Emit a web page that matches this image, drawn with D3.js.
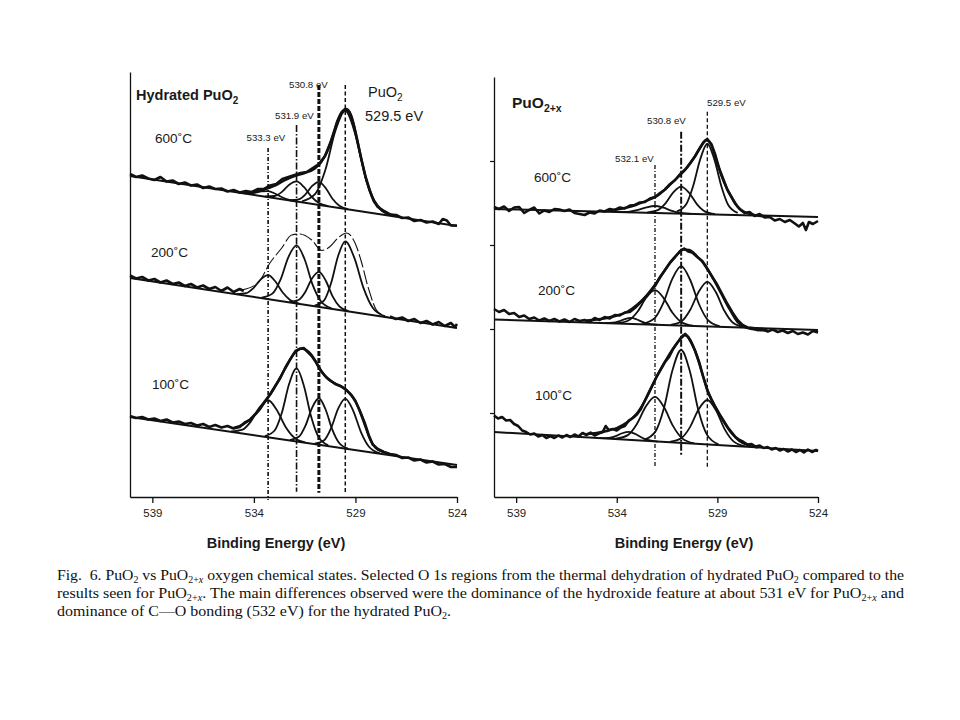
<!DOCTYPE html>
<html><head><meta charset="utf-8">
<script src="https://cdn.jsdelivr.net/npm/d3@7"></script>
<style>
html,body{margin:0;padding:0;background:#fff;}
svg{display:block;}
text{white-space:pre;}
</style></head><body>
<svg id="chart" width="960" height="720"></svg>
<script>
// ---------- axes ----------
const energyDomain = [540.1, 524];
const energyTicks = [539, 534, 529, 524];
const intensityDomain = [0, 85];
const rightIntensityTicks = [16.8, 33.6, 50.4, 67.2];
const axisTitle = "Binding Energy (eV)";
const temperatures = ["600\u02daC", "200\u02daC", "100\u02daC"];

// ---------- Hydrated PuO2 (left) ----------
const L600_background = [[540.1, 64.2], [524, 54.2]];
const L600_data = [[540.1,64.6],[539.8,64.0],[539.5,64.3],[539.2,63.7],[538.9,63.4],[538.6,64.0],[538.3,63.1],[538.0,63.3],[537.7,62.6],[537.4,62.9],[537.1,62.3],[536.8,62.5],[536.5,61.8],[536.2,62.1],[535.9,61.6],[535.6,61.7],[535.3,61.1],[535.0,61.4],[534.7,60.9],[534.4,61.2],[534.1,61.0],[533.8,61.6],[533.5,61.6],[533.2,62.3],[532.9,62.6],[532.6,63.6],[532.3,64.0],[532.0,64.4],[531.7,64.8],[531.4,65.0],[531.1,65.8],[530.8,66.6],[530.5,68.2],[530.2,71.2],[529.9,75.0],[529.7,76.8],[529.5,77.6],[529.3,77.0],[529.1,74.6],[528.9,71.0],[528.7,67.4],[528.5,64.0],[528.3,61.4],[528.1,59.2],[527.9,58.0],[527.6,57.2],[527.3,56.5],[527.0,56.4],[526.7,55.8],[526.4,55.9],[526.1,55.2],[525.8,55.4],[525.5,54.9],[525.2,55.1],[524.9,54.6],[524.7,55.6],[524.5,55.3],[524.3,54.3],[524.0,54.3]];
const L600_fit = [[534.5,60.8],[534,61.0],[533.5,61.5],[533,62.2],[532.5,63.3],[532,64.2],[531.5,64.8],[531,65.7],[530.7,66.9],[530.4,69.0],[530.1,72.4],[529.85,75.6],[529.6,77.3],[529.45,77.6],[529.2,76.2],[528.95,72.2],[528.7,67.4],[528.45,63.2],[528.2,60.2],[527.9,58.2],[527.5,56.9],[527,56.2]];
const L600_peak5333 = [[531.87,0.01],[532.31,0.13],[532.64,0.44],[532.97,0.93],[533.3,1.2],[533.63,0.93],[533.96,0.44],[534.29,0.13],[534.73,0.01]];
const L600_peak5319 = [[530.34,0.04],[530.82,0.42],[531.18,1.47],[531.54,3.12],[531.9,4.0],[532.26,3.12],[532.62,1.47],[532.98,0.42],[533.46,0.04]];
const L600_peak5308 = [[529.37,0.04],[529.81,0.49],[530.14,1.69],[530.47,3.58],[530.8,4.6],[531.13,3.58],[531.46,1.69],[531.79,0.49],[532.23,0.04]];
const L600_peak5295 = [[527.37,0.18],[528.02,2.08],[528.52,7.21],[529.01,15.27],[529.5,19.6],[529.99,15.27],[530.48,7.21],[530.98,2.08],[531.63,0.18]];

const L200_background = [[540.1, 43.8], [524, 33.8]];
const L200_dataLow = [[540.1,44.3],[539.8,43.7],[539.5,44.0],[539.2,43.3],[538.9,43.6],[538.6,42.9],[538.3,43.3],[538.0,42.6],[537.7,42.9],[537.4,42.2],[537.1,42.6],[536.8,41.9],[536.5,42.3],[536.2,41.6],[535.9,42.0],[535.6,41.2],[535.3,41.9],[535.0,41.0],[534.7,41.6],[534.5,41.2]];
const L200_dataHigh = [[527.3,36.1],[527.0,35.6],[526.7,35.9],[526.4,35.2],[526.1,35.6],[525.8,34.8],[525.5,35.2],[525.2,34.5],[524.9,35.0],[524.6,34.2],[524.3,34.8],[524.1,34.0],[524.0,34.6]];
const L200_fit = [[534.6,41.4],[533.8,42.8],[533.21,46.8],[532.63,49.8],[532.14,52.4],[531.73,52.6],[531.15,51.4],[530.66,49.3],[530.25,50.1],[529.86,51.8],[529.43,52.8],[529.02,50.8],[528.69,46.8],[528.38,42.0],[527.89,37.0],[527.21,35.8]];
const L200_peak5333 = [[531.74,0.04],[532.22,0.51],[532.58,1.77],[532.94,3.74],[533.3,4.8],[533.66,3.74],[534.02,1.77],[534.38,0.51],[534.86,0.04]];
const L200_peak5319 = [[530.18,0.10],[530.71,1.23],[531.11,4.27],[531.5,9.04],[531.9,11.6],[532.3,9.04],[532.69,4.27],[533.09,1.23],[533.62,0.10]];
const L200_peak5308 = [[529.34,0.06],[529.79,0.74],[530.13,2.58],[530.46,5.45],[530.8,7.0],[531.14,5.45],[531.47,2.58],[531.81,0.74],[532.26,0.06]];
const L200_peak5295 = [[527.55,0.13],[528.15,1.47],[528.6,5.12],[529.05,10.83],[529.5,13.9],[529.85,10.83],[530.2,5.12],[530.54,1.47],[531.01,0.13]];

const L100_background = [[540.1, 16.0], [524, 6.4]];
const L100_data = [[540.1,16.2],[539.8,15.8],[539.5,16.0],[539.2,15.5],[538.9,15.7],[538.6,15.2],[538.3,15.5],[538.0,14.9],[537.7,15.1],[537.4,14.6],[537.1,14.8],[536.8,14.3],[536.5,14.6],[536.2,14.0],[535.9,14.4],[535.6,13.9],[535.3,14.2],[535.0,13.7],[534.7,14.0],[534.45,14.9],[534.2,15.4],[533.95,16.5],[533.7,17.6],[533.45,19.2],[533.2,20.5],[532.95,22.2],[532.7,23.8],[532.45,25.9],[532.2,27.6],[531.95,29.2],[531.75,29.6],[531.55,29.8],[531.35,29.0],[531.15,28.2],[530.95,27.0],[530.7,25.2],[530.45,24.0],[530.2,23.2],[530.0,22.6],[529.75,22.2],[529.45,21.4],[529.2,20.4],[529.0,19.2],[528.8,17.4],[528.55,14.9],[528.35,12.4],[528.15,10.5],[527.9,9.6],[527.6,9.0],[527.3,8.6],[527.0,8.4],[526.7,7.8],[526.4,7.9],[526.1,7.3],[525.8,7.5],[525.5,6.9],[525.2,7.1],[524.9,6.5],[524.6,6.6],[524.3,6.0],[524.0,6.0]];
const L100_fit = [[535.0,13.8],[534.5,14.6],[534.0,16.2],[533.5,18.8],[533.0,21.8],[532.5,25.4],[532.0,28.8],[531.65,29.7],[531.3,29.0],[531.0,27.4],[530.7,25.3],[530.35,23.6],[530.0,22.7],[529.6,21.9],[529.3,20.8],[529.0,19.1],[528.75,16.8],[528.5,14.0],[528.25,11.3],[528.0,9.8],[527.6,9.0],[527.0,8.3]];
const L100_peak5333 = [[531.48,0.07],[532.04,0.78],[532.46,2.72],[532.88,5.76],[533.3,7.4],[533.72,5.76],[534.14,2.72],[534.56,0.78],[535.12,0.07]];
const L100_peak5319 = [[530.34,0.13],[530.82,1.55],[531.18,5.37],[531.54,11.37],[531.9,14.6],[532.26,11.37],[532.62,5.37],[532.98,1.55],[533.46,0.13]];
const L100_peak5308 = [[529.37,0.08],[529.81,0.99],[530.14,3.42],[530.47,7.24],[530.8,9.3],[531.13,7.24],[531.46,3.42],[531.79,0.99],[532.23,0.08]];
const L100_peak5295 = [[527.81,0.09],[528.33,1.06],[528.72,3.68],[529.11,7.79],[529.5,10.0],[529.85,7.79],[530.2,3.68],[530.54,1.06],[531.01,0.09]];

const hydratedRefEnergy = [533.3, 531.9, 530.8, 529.5];
const hydratedRefTop = [69.8, 74.4, 82.4, 82.4];
const hydratedRefBottom = [-0.6, 1.06, 0.86, 0.86];
const hydratedRefLabel = ["533.3 eV", "531.9 eV", "530.8 eV"];

// ---------- PuO2+x (right) ----------
const R600_background = [[540.1, 57.6], [524, 56.0]];
const R600_data = [[540.1,58.0],[539.85,57.6],[539.6,58.1],[539.35,57.2],[539.1,57.9],[538.85,58.0],[538.6,56.8],[538.35,57.4],[538.1,57.9],[537.85,56.7],[537.6,57.3],[537.35,57.0],[537.1,57.6],[536.85,57.5],[536.6,57.2],[536.35,57.5],[536.1,56.8],[535.85,56.6],[535.6,56.4],[535.35,56.9],[535.1,56.7],[534.85,57.3],[534.6,57.1],[534.35,57.6],[534.1,57.4],[533.85,57.9],[533.6,57.7],[533.35,58.3],[533.1,58.4],[532.85,58.9],[532.6,59.0],[532.35,59.7],[532.1,60.0],[531.85,60.8],[531.6,61.5],[531.35,62.6],[531.1,63.4],[530.85,64.6],[530.6,65.5],[530.35,66.8],[530.1,68.2],[529.9,69.6],[529.7,70.9],[529.5,71.6],[529.3,70.6],[529.1,68.4],[528.9,65.6],[528.7,63.5],[528.5,61.4],[528.3,60.0],[528.1,58.6],[527.9,57.6],[527.65,56.8],[527.4,57.0],[527.15,56.2],[526.9,56.6],[526.65,55.9],[526.4,56.0],[526.15,55.3],[525.9,55.6],[525.65,55.0],[525.4,55.4],[525.15,54.7],[524.95,54.1],[524.75,54.8],[524.6,53.4],[524.45,55.0],[524.25,54.6],[524.0,55.2]];
const R600_fit = [[534.5,57.2],[534,57.5],[533.5,57.9],[533,58.5],[532.5,59.3],[532,60.2],[531.5,61.9],[531,63.8],[530.5,65.9],[530.15,67.9],[529.8,70.2],[529.55,71.4],[529.3,70.4],[529.05,67.3],[528.8,64.3],[528.55,61.9],[528.3,60.0],[528,58.1],[527.6,56.9],[527.0,56.3],[526.5,56.1]];
const R600_peak5321 = [[530.28,0.01],[530.84,0.15],[531.26,0.52],[531.68,1.09],[532.1,1.4],[532.52,1.09],[532.94,0.52],[533.36,0.15],[533.92,0.01]];
const R600_peak5308 = [[529.11,0.05],[529.63,0.57],[530.02,1.99],[530.41,4.21],[530.8,5.4],[531.19,4.21],[531.58,1.99],[531.97,0.57],[532.49,0.05]];
const R600_peak5295 = [[527.99,0.42],[528.46,1.97],[528.8,5.64],[529.15,11.0],[529.5,14.1],[529.85,11.0],[530.2,5.64],[530.54,1.97],[531.01,0.42]];

const R200_background = [[540.1, 35.5], [524, 33.4]];
const R200_data = [[540.1,37.6],[539.85,37.0],[539.6,37.4],[539.35,36.6],[539.1,36.8],[538.85,36.0],[538.6,36.3],[538.35,35.6],[538.1,35.9],[537.85,35.3],[537.6,35.7],[537.35,35.2],[537.1,35.6],[536.85,35.1],[536.6,35.5],[536.35,35.0],[536.1,35.6],[535.85,35.2],[535.6,35.4],[535.35,35.0],[535.1,35.8],[534.85,35.4],[534.6,36.0],[534.35,35.7],[534.1,36.4],[533.85,36.3],[533.6,36.9],[533.35,37.0],[533.1,37.8],[532.85,38.8],[532.6,39.8],[532.35,41.0],[532.1,42.2],[531.85,44.0],[531.6,45.4],[531.35,46.9],[531.1,48.0],[530.85,49.2],[530.65,49.7],[530.45,49.1],[530.25,48.9],[530.0,48.0],[529.75,47.2],[529.5,45.6],[529.25,44.0],[529.0,42.4],[528.75,40.5],[528.5,38.6],[528.25,36.9],[528.0,35.4],[527.75,34.4],[527.5,33.9],[527.25,33.8],[527.0,33.4],[526.75,33.6],[526.5,33.1],[526.25,33.5],[526.0,33.0],[525.75,33.3],[525.5,32.8],[525.25,33.2],[525.0,32.6],[524.75,32.9],[524.5,32.5],[524.25,33.2],[524.0,32.9]];
const R200_fit = [[535.5,35.3],[535,35.5],[534.5,35.8],[534,36.3],[533.5,37.0],[533,38.4],[532.5,40.4],[532,43.0],[531.5,46.0],[531,48.5],[530.7,49.5],[530.4,49.4],[530,48.1],[529.6,46.3],[529.2,43.6],[528.8,40.6],[528.4,37.6],[528,35.0],[527.6,33.9],[527,33.4],[526.5,33.3]];
const R200_peak5333 = [[532.0,0.01],[532.4,0.13],[532.7,0.44],[533.0,0.93],[533.3,1.2],[533.6,0.93],[533.9,0.44],[534.2,0.13],[534.6,0.01]];
const R200_peak5321 = [[530.23,0.06],[530.8,0.73],[531.24,2.54],[531.67,5.38],[532.1,6.9],[532.53,5.38],[532.96,2.54],[533.4,0.73],[533.97,0.06]];
const R200_peak5308 = [[528.88,0.11],[529.47,1.26],[529.91,4.38],[530.36,9.27],[530.8,11.9],[531.24,9.27],[531.69,4.38],[532.13,1.26],[532.72,0.11]];
const R200_peak5295 = [[527.68,0.08],[528.24,0.94],[528.66,3.28],[529.08,6.93],[529.5,8.9],[529.92,6.93],[530.34,3.28],[530.76,0.94],[531.32,0.08]];

const R100_background = [[540.1, 13.0], [524, 9.2]];
const R100_data = [[540.1,16.3],[539.9,15.7],[539.7,16.0],[539.5,15.3],[539.3,15.4],[539.1,14.6],[538.9,14.2],[538.7,13.3],[538.5,13.0],[538.3,12.5],[538.1,12.7],[537.9,12.1],[537.7,12.4],[537.5,11.8],[537.3,12.2],[537.1,11.8],[536.9,12.3],[536.7,11.9],[536.5,12.4],[536.3,12.0],[536.1,12.5],[535.9,12.1],[535.7,12.8],[535.5,12.4],[535.3,12.9],[535.1,12.3],[534.9,12.7],[534.7,13.0],[534.55,14.2],[534.4,13.4],[534.2,13.6],[534.0,13.3],[533.8,13.9],[533.6,14.2],[533.4,15.3],[533.2,15.8],[533.0,16.5],[532.8,17.6],[532.6,19.3],[532.4,21.0],[532.2,22.6],[532.0,24.2],[531.8,25.6],[531.6,27.0],[531.4,28.0],[531.2,29.6],[531.0,30.8],[530.8,31.8],[530.6,32.6],[530.45,32.0],[530.3,30.9],[530.1,29.2],[529.9,26.9],[529.7,24.0],[529.5,21.3],[529.3,19.6],[529.1,18.0],[528.9,16.6],[528.7,15.3],[528.5,14.0],[528.3,13.0],[528.1,12.0],[527.9,11.4],[527.7,11.0],[527.5,10.5],[527.3,10.6],[527.1,10.1],[526.9,10.3],[526.7,9.8],[526.5,10.0],[526.3,9.5],[526.1,9.8],[525.9,9.3],[525.7,9.6],[525.5,9.1],[525.3,9.5],[525.1,9.0],[524.9,9.4],[524.7,8.9],[524.5,9.5],[524.3,9.0],[524.1,9.4],[524.0,9.2]];
const R100_fit = [[535.5,12.6],[535,12.8],[534.5,13.2],[534,13.8],[533.5,14.9],[533,16.7],[532.5,20.0],[532,24.2],[531.5,27.8],[531,30.8],[530.65,32.4],[530.35,31.4],[530,28.0],[529.7,24.0],[529.4,20.4],[529.1,18.0],[528.7,15.2],[528.3,12.8],[527.9,11.2],[527.5,10.4],[527,9.9]];
const R100_peak5334 = [[531.97,0.01],[532.41,0.17],[532.74,0.59],[533.07,1.25],[533.4,1.6],[533.73,1.25],[534.06,0.59],[534.39,0.17],[534.83,0.01]];
const R100_peak5321 = [[530.15,0.08],[530.75,0.94],[531.2,3.28],[531.65,6.93],[532.1,8.9],[532.55,6.93],[533.0,3.28],[533.45,0.94],[534.05,0.08]];
const R100_peak5308 = [[528.95,0.17],[529.52,1.97],[529.95,6.84],[530.37,14.49],[530.8,18.6],[531.23,14.49],[531.65,6.84],[532.08,1.97],[532.65,0.17]];
const R100_peak5295 = [[527.63,0.08],[528.2,0.94],[528.64,3.28],[529.07,6.93],[529.5,8.9],[529.93,6.93],[530.36,3.28],[530.8,0.94],[531.37,0.08]];

const oxideRefEnergy = [532.1, 530.8, 529.5];
const oxideRefTop = [66.4, 73.06, 77.06];
const oxideRefBottom = [6.06, 8.4, 6.06];
const oxideRefLabel = ["532.1 eV", "530.8 eV", "529.5 eV"];

// ---------- build ----------
const leftSpectra = [
  {bg: L600_background, data: [L600_data], fit: L600_fit, thinFit: false, comps: [L600_peak5333, L600_peak5319, L600_peak5308, L600_peak5295]},
  {bg: L200_background, data: [L200_dataLow, L200_dataHigh], fit: L200_fit, thinFit: true, comps: [L200_peak5333, L200_peak5319, L200_peak5308, L200_peak5295]},
  {bg: L100_background, data: [L100_data], fit: L100_fit, thinFit: false, comps: [L100_peak5333, L100_peak5319, L100_peak5308, L100_peak5295]}
];
const rightSpectra = [
  {bg: R600_background, data: [R600_data], fit: R600_fit, thinFit: false, comps: [R600_peak5321, R600_peak5308, R600_peak5295]},
  {bg: R200_background, data: [R200_data], fit: R200_fit, thinFit: false, comps: [R200_peak5333, R200_peak5321, R200_peak5308, R200_peak5295]},
  {bg: R100_background, data: [R100_data], fit: R100_fit, thinFit: false, comps: [R100_peak5334, R100_peak5321, R100_peak5308, R100_peak5295]}
];

const svg = d3.select("#chart");
const INK = "#111";
const SANS = "'Liberation Sans', Arial, Helvetica, sans-serif";

function drawPanel(x0, x1, yTop, spectra, refs, yTicks) {
  const x = d3.scaleLinear().domain(energyDomain).range([x0, x1]);
  const y = d3.scaleLinear().domain(intensityDomain).range([497, 72]);
  const g = svg.append("g");
  const sortByX = arr => arr.slice().sort((a, b) => x(a[0]) - x(b[0]));
  const noisy = d3.line().x(d => x(d[0])).y(d => y(d[1]));
  const smooth = d3.line().x(d => x(d[0])).y(d => y(d[1])).curve(d3.curveMonotoneX);

  refs.energy.forEach((e, i) => {
    g.append("line")
      .attr("x1", x(e)).attr("x2", x(e))
      .attr("y1", y(refs.top[i])).attr("y2", y(refs.bottom[i]))
      .attr("stroke", INK).attr("stroke-width", refs.width[i])
      .attr("stroke-dasharray", refs.dash[i]);
  });

  spectra.forEach(s => {
    const bgScale = d3.scaleLinear().domain([s.bg[0][0], s.bg[1][0]]).range([s.bg[0][1], s.bg[1][1]]);
    g.append("path").attr("d", noisy(s.bg)).attr("fill", "none")
      .attr("stroke", INK).attr("stroke-width", 2.0);
    s.comps.forEach(c => {
      const abs = sortByX(c).map(p => [p[0], p[1] + bgScale(p[0])]);
      g.append("path").attr("d", smooth(abs)).attr("fill", "none")
        .attr("stroke", INK).attr("stroke-width", 1.8).attr("stroke-linejoin", "round");
    });
    const fp = g.append("path").attr("d", smooth(sortByX(s.fit))).attr("fill", "none")
      .attr("stroke", INK).attr("stroke-linejoin", "round");
    if (s.thinFit) fp.attr("stroke-width", 1.1).attr("stroke-dasharray", "14,3");
    else fp.attr("stroke-width", 2.4);
    s.data.forEach(d => {
      g.append("path").attr("d", noisy(sortByX(d))).attr("fill", "none")
        .attr("stroke", INK).attr("stroke-width", 2.6).attr("stroke-linejoin", "round");
    });
  });

  const xa = g.append("g").attr("transform", "translate(0,497)")
    .call(d3.axisBottom(x).tickValues(energyTicks).tickSize(6).tickSizeOuter(0).tickPadding(6).tickFormat(d3.format("d")));
  xa.select(".domain").attr("stroke", INK).attr("stroke-width", 1.3);
  xa.selectAll(".tick line").attr("stroke", INK).attr("stroke-width", 1.3);
  xa.selectAll(".tick text").attr("font-family", SANS).attr("font-size", 11.5).attr("fill", "#222");

  const yAxisScale = y.copy().domain([0, y.invert(yTop)]).range([497, yTop]);
  const ya = g.append("g").attr("transform", `translate(${x0},0)`)
    .call(d3.axisLeft(yAxisScale).tickValues(yTicks).tickSize(4).tickSizeOuter(0).tickFormat(""));
  ya.select(".domain").attr("stroke", INK).attr("stroke-width", 1.3);
  ya.selectAll(".tick line").attr("stroke", INK).attr("stroke-width", 1.2);
  return x;
}

drawPanel(130, 457, 72, leftSpectra, {
  energy: hydratedRefEnergy, top: hydratedRefTop, bottom: hydratedRefBottom,
  width: [1.6, 1.6, 3.0, 1.5], dash: ["4,2,1,2", "7,2,1.5,2", "5,2", "4,2.5"]
}, []);
drawPanel(494, 818, 77, rightSpectra, {
  energy: oxideRefEnergy, top: oxideRefTop, bottom: oxideRefBottom,
  width: [1.3, 2.0, 1.3], dash: ["4,2,1,2", "7,2,2,2", "4,2.5"]
}, rightIntensityTicks);

// ---------- text ----------
function rich(parent, parts, size, subSize, shift) {
  let cur = 0;
  parts.forEach(p => {
    const target = p.sub ? shift : 0;
    const t = parent.append("tspan").attr("dy", target - cur)
      .attr("font-size", p.sub ? subSize : size).text(p.t);
    if (p.it) t.attr("font-style", "italic");
    cur = target;
  });
}
function label(xp, yp, txt, size, weight, anchor) {
  return svg.append("text").attr("x", xp).attr("y", yp).attr("font-family", SANS)
    .attr("font-size", size).attr("font-weight", weight || "normal")
    .attr("text-anchor", anchor || "start").attr("fill", "#1a1a1a").text(txt);
}

const hl = svg.append("text").attr("x", 136).attr("y", 100).attr("font-family", SANS)
  .attr("font-weight", "bold").attr("fill", "#1a1a1a");
rich(hl, [{t: "Hydrated PuO"}, {t: "2", sub: true}], 14.5, 10, 4);
const pl = svg.append("text").attr("x", 368).attr("y", 97).attr("font-family", SANS).attr("fill", "#1a1a1a");
rich(pl, [{t: "PuO"}, {t: "2", sub: true}], 14.5, 10, 4);
label(365, 121, "529.5 eV", 14.5);
label(289, 88, hydratedRefLabel[2], 9.7);
label(275, 118.5, hydratedRefLabel[1], 9.7);
label(246.5, 141, hydratedRefLabel[0], 9.7);
label(155, 143, temperatures[0], 13.6);
label(151, 257, temperatures[1], 13.6);
label(152, 389, temperatures[2], 13.6);

const rl = svg.append("text").attr("x", 512).attr("y", 108).attr("font-family", SANS)
  .attr("font-weight", "bold").attr("fill", "#1a1a1a");
rich(rl, [{t: "PuO"}, {t: "2+x", sub: true}], 15.5, 10.5, 4);
label(707, 106, oxideRefLabel[2], 9.7);
label(647, 123.5, oxideRefLabel[1], 9.7);
label(615, 162, oxideRefLabel[0], 9.7);
label(534, 182, temperatures[0], 13.6);
label(538, 295, temperatures[1], 13.6);
label(535, 400, temperatures[2], 13.6);

label(276, 548, axisTitle, 14.5, "bold", "middle");
label(684, 548, axisTitle, 14.5, "bold", "middle");

const SERIF = "'Liberation Serif', 'Times New Roman', Times, serif";
const captionLines = [
  {y: 580, len: 847, parts: [{t: "Fig.  6. PuO"}, {t: "2", sub: true}, {t: " vs PuO"}, {t: "2+", sub: true}, {t: "x", sub: true, it: true}, {t: " oxygen chemical states. Selected O 1s regions from the thermal dehydration of hydrated PuO"}, {t: "2", sub: true}, {t: " compared to the"}]},
  {y: 598, len: 847, parts: [{t: "results seen for PuO"}, {t: "2+", sub: true}, {t: "x", sub: true, it: true}, {t: ". The main differences observed were the dominance of the hydroxide feature at about 531 eV for PuO"}, {t: "2+", sub: true}, {t: "x", sub: true, it: true}, {t: " and"}]},
  {y: 616, len: 394, parts: [{t: "dominance of C\u2014O bonding (532 eV) for the hydrated PuO"}, {t: "2", sub: true}, {t: "."}]}
];
captionLines.forEach(l => {
  const t = svg.append("text").attr("x", 57).attr("y", l.y).attr("font-family", SERIF).attr("fill", "#111");
  if (l.len) t.attr("textLength", l.len).attr("lengthAdjust", "spacingAndGlyphs");
  rich(t, l.parts, 15, 9.5, 2.5);
});
</script></body></html>
